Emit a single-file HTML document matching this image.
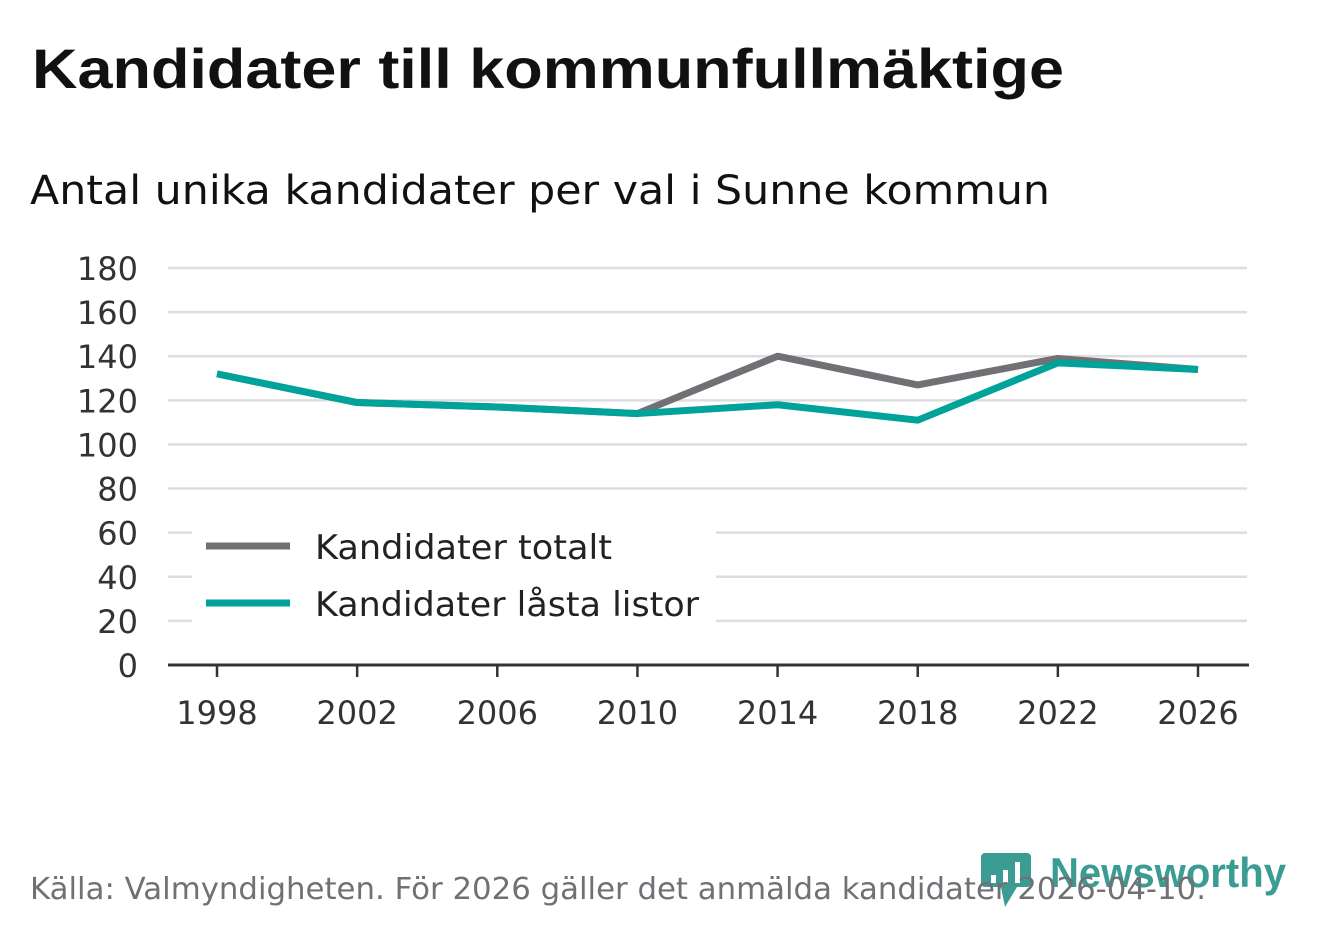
<!DOCTYPE html>
<html><head><meta charset="utf-8"><style>
body{margin:0;width:1322px;height:939px;background:#fff;overflow:hidden;font-family:"DejaVu Sans","Liberation Sans",sans-serif;}
svg{position:absolute;left:0;top:0}
</style></head><body>
<svg id="c" width="1322" height="939">
<text x="32" y="88" font-size="56" font-weight="bold" fill="#111" font-family="Liberation Sans, sans-serif" textLength="1032" lengthAdjust="spacingAndGlyphs">Kandidater till kommunfullmäktige</text>
<text x="30" y="204" font-size="40" fill="#111" textLength="1020" lengthAdjust="spacingAndGlyphs">Antal unika kandidater per val i Sunne kommun</text>
<g id="grid"></g><g id="lines"></g>
<g>
<rect x="192" y="522" width="524" height="104" fill="#fff"/>
<line x1="206" y1="546" x2="290" y2="546" stroke="#717075" stroke-width="7"/>
<text x="315" y="559" font-size="34" fill="#222" textLength="297" lengthAdjust="spacingAndGlyphs">Kandidater totalt</text>
<line x1="206" y1="603" x2="290" y2="603" stroke="#00a39a" stroke-width="7"/>
<text x="315" y="616" font-size="34" fill="#222" textLength="384" lengthAdjust="spacingAndGlyphs">Kandidater låsta listor</text>
</g>
<g>
<path d="M985 853 h42 a4 4 0 0 1 4 4 v26 a4 4 0 0 1 -4 4 h-10 l-12 20 l-4 -20 h-16 a4 4 0 0 1 -4 -4 v-26 a4 4 0 0 1 4 -4z" fill="#3a9c93"/>
<rect x="991" y="875" width="5" height="8" fill="#fff"/><rect x="1003" y="870" width="5" height="13" fill="#fff"/><rect x="1015" y="862" width="5" height="21" fill="#fff"/>
<text x="1050" y="887" font-size="42" font-weight="bold" fill="#3a9c93" font-family="Liberation Sans, sans-serif" textLength="236" lengthAdjust="spacingAndGlyphs">Newsworthy</text>
</g>
<text x="30" y="899" font-size="30" fill="#717075" textLength="1176" lengthAdjust="spacingAndGlyphs">Källa: Valmyndigheten. För 2026 gäller det anmälda kandidater 2026-04-10.</text>
</svg>
<script>
const years=[1998,2002,2006,2010,2014,2018,2022,2026];
const totalt=[132,119,117,114,140,127,139,134];
const lasta=[132,119,117,114,118,111,137,134];
const yTicks=[0,20,40,60,80,100,120,140,160,180];
const xTicks=[1998,2002,2006,2010,2014,2018,2022,2026];
const NS="http://www.w3.org/2000/svg";
const x=v=>217+(v-1998)*(1198-217)/28;
const y=v=>665-v*(665-268)/180;
function mk(t,a,p){const e=document.createElementNS(NS,t);for(const k in a)e.setAttribute(k,a[k]);p.appendChild(e);return e;}
const g=document.getElementById('grid'),L=document.getElementById('lines');
yTicks.forEach(v=>{
 if(v>0){const l=mk('line',{x1:168,x2:1247,y1:y(v),y2:y(v),stroke:'#ddd','stroke-width':2.5},g);
 
 }
 const t=mk('text',{x:138,y:y(v)+12,'font-size':32,fill:'#333','text-anchor':'end'},g);t.textContent=v;
 
 
});
const ax=mk('line',{x1:168,x2:1249,y1:665,y2:665,stroke:'#333','stroke-width':3},g);


xTicks.forEach(v=>{
 const tk=mk('line',{x1:x(v),x2:x(v),y1:665,y2:677,stroke:'#333','stroke-width':2.5},g);
 
 
 const t=mk('text',{x:x(v),y:724,'font-size':32,fill:'#333','text-anchor':'middle'},g);t.textContent=v;
 
 
});
function line(d,c,n){const p=mk('polyline',{points:d.map((v,i)=>x(years[i])+','+y(v)).join(' '),fill:'none',stroke:c,'stroke-width':7,'stroke-linejoin':'round'},L);
 
 }
line(totalt,'#717075','line-totalt');
line(lasta,'#00a39a','line-lasta');
</script>
</body></html>
